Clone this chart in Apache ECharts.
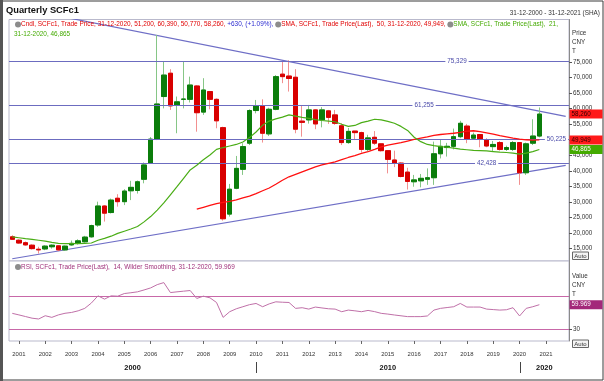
<!DOCTYPE html>
<html><head><meta charset="utf-8">
<script src="https://cdn.jsdelivr.net/npm/echarts@6/dist/echarts.min.js"></script>
<style>html,body{margin:0;padding:0;background:#fff}#c{width:604px;height:381px}</style>
</head><body><div id="c"></div>
<script>
// ---------- DATA ----------
const categories = [];
for (let y = 2000; y <= 2021; y++) for (let q = 1; q <= 4; q++) categories.push(y + ' Q' + q);
categories.splice(0, 3); // 2000 Q4 ... 2021 Q4

const open = [18800,17700,16900,16100,14800,14900,15600,15900,14600,16200,
16700,17200,18800,22600,28700,26600,31200,30100,33600,33700,
37300,42400,50200,63900,71400,61200,63000,63000,67300,58900,
65500,63000,53900,26100,34400,40500,48900,59400,60900,51900,
59800,71100,70500,70100,56000,56400,59600,56400,59300,58000,
54500,49100,52800,52300,46900,50800,48700,46500,43500,42500,
39600,36500,36800,37300,37800,45500,47500,47900,51000,54400,
50500,51700,49900,47800,49100,46900,46900,49100,39400,48900,
51200];
const high = [19300,18000,17300,16400,15600,16100,16400,16100,16000,17600,
18000,19100,22700,30100,29000,31100,32500,34100,36800,36900,
42700,50900,83700,75100,72700,63900,75100,70300,67600,69800,
65700,63300,54200,35800,44800,48900,59800,62800,63000,60300,
70800,75100,75600,72700,60900,61200,59800,60500,59600,59600,
55300,53800,52800,52600,51600,52800,48900,46500,46500,42800,
41000,38700,39000,40800,49400,50200,49000,53600,56100,55100,
52300,51800,50500,49600,49600,48100,49600,49100,49100,56600,
60390];
const low = [17800,16500,15900,14700,13400,14500,15000,14200,14300,15900,
16300,16900,18500,22000,23700,26300,28500,29000,30600,32700,
36000,42200,49900,60100,59600,52100,60100,62000,52600,58000,
59800,53700,24000,25300,34100,38700,48300,58500,49100,51200,
59500,68200,65500,52100,51000,55200,53400,54000,55100,54800,
48300,48700,49900,45900,46200,48300,46200,39200,41200,37900,
34000,34900,34700,35500,35500,44000,44600,46900,50500,48900,
50000,47600,47600,46400,46500,46400,46400,35500,38700,48300,
50770];
const close = [18000,16800,16200,15000,14600,15800,16100,14600,15800,16700,
17500,18700,22400,28700,26400,30600,30100,33500,34700,36500,
41900,50200,61500,70800,60900,62200,63100,67600,58700,66000,
63000,56100,24600,34100,40800,47800,59400,60900,52100,59800,
70300,70300,69700,53400,55600,59600,55100,59600,57200,55300,
49100,52700,52300,46900,50600,48900,46500,43700,42500,38200,
36600,37100,37600,37800,45500,47900,47900,51000,55300,50200,
51500,50200,48000,48500,46900,47500,49100,39400,48700,51200,
58260];
const sma21 = [18800,18500,18200,18000,17700,17400,17000,16700,16600,16600,
16600,16700,16800,17700,18300,19000,19900,20600,21300,22100,
23600,25300,27400,29700,32300,34900,37600,40300,41800,43600,
45100,46900,47500,48000,48500,49300,50700,52500,54700,56000,
56700,57300,58000,57600,57200,56900,56500,56200,56000,55800,
55000,54300,54600,55500,56000,56600,56400,55900,55300,54300,
53000,50800,49400,48500,48100,47800,47600,47300,47000,46800,
46600,46500,46400,46200,46000,45900,45700,45400,45700,46200,
46865];
const sma50 = [null,null,null,null,null,null,null,null,null,null,
null,null,null,null,null,null,null,null,null,null,
null,null,null,null,null,null,null,null,27700,28300,
28900,29500,29900,30200,30700,31300,31900,32700,33600,34500,
35700,37000,38100,38900,39700,40500,41300,41900,42400,42900,
43600,44300,44900,45600,46200,46900,47700,48300,48700,49100,
49600,50100,50500,50900,51400,51700,51900,52100,52400,52800,
52900,52600,52200,51800,51300,50900,50500,50200,50000,49900,
49949];
const rsi = [49.4,47.5,45.5,43.5,42.5,46.5,44.5,47.5,49.5,50.5,
52.5,55.5,62.0,70.8,66.8,70.8,70.4,73.6,74.6,75.7,
78.0,80.5,84.5,87.0,74.8,75.7,76.5,77.3,67.6,70.4,
68.4,62.7,44.5,51.4,55.0,57.5,60.0,61.5,57.5,61.0,
63.5,63.0,62.7,55.5,56.3,54.6,57.1,56.0,55.0,54.6,
51.4,53.4,52.5,51.4,53.0,51.5,49.4,48.5,47.4,46.4,
45.4,45.4,45.4,46.2,53.4,55.5,56.5,57.5,61.5,57.1,
57.1,57.1,54.6,54.0,53.4,53.8,56.3,46.2,55.5,57.5,
59.969];
const levels = [75329, 61255, 50225, 42428];
const upperTrend = [[0, 92760], [84, 57510]];
const lowerTrend = [[0, 11740], [84, 41770]];
const priceTicks = [15000,20000,25000,30000,35000,40000,45000,50000,55000,60000,65000,70000,75000];
const rsiTicks = [30];
const rsiLevels = [70, 30];
const changeText = '+630, (+1.09%), ';

// ---------- CHART ----------
const FF = "'Liberation Sans', Arial, Helvetica, sans-serif";
const chart = echarts.init(document.getElementById('c'), null, {renderer: 'canvas'});
const fmt = v => v.toLocaleString('en-US');
const N = open.length;
const full = open.map((o, i) => [o, close[i], low[i], high[i]]);
const bodies = open.map((o, i) => [o, close[i], Math.min(o, close[i]), Math.max(o, close[i])]);
const isQ1 = (idx, val) => String(val).endsWith('Q1');

const option = {
  animation: false,
  grid: [
    {left: 9, top: 19.5, width: 560, height: 241.5, show: true, borderColor: '#b9b9cc', borderWidth: 1, backgroundColor: '#fff'},
    {left: 9, top: 261, width: 560, height: 80, show: true, borderColor: '#b9b9cc', borderWidth: 1, backgroundColor: '#fff'}
  ],
  xAxis: [
    {gridIndex: 0, type: 'category', data: categories, boundaryGap: true,
     axisLine: {show: false}, axisTick: {show: false}, axisLabel: {show: false}, splitLine: {show: false}},
    {gridIndex: 1, type: 'category', data: categories, boundaryGap: true,
     axisLine: {show: false},
     axisTick: {show: true, interval: isQ1, alignWithLabel: true, length: 3, lineStyle: {color: '#666'}},
     axisLabel: {interval: isQ1, formatter: v => v.slice(0, 4), fontSize: 5.9, color: '#333', margin: 10, fontFamily: FF},
     splitLine: {show: false}}
  ],
  yAxis: [
    {gridIndex: 0, type: 'value', position: 'right', min: 11020, max: 88673, scale: true,
     axisLine: {show: true, lineStyle: {color: '#8a8a8a'}},
     axisTick: {show: true, customValues: priceTicks, length: 3, lineStyle: {color: '#555'}},
     axisLabel: {customValues: priceTicks, formatter: v => fmt(v), fontSize: 6.3, color: '#333', margin: 4, fontFamily: FF},
     splitLine: {show: false}},
    {gridIndex: 1, type: 'value', position: 'right', min: 15.6, max: 113.4, scale: true,
     axisLine: {show: true, lineStyle: {color: '#8a8a8a'}},
     axisTick: {show: true, customValues: rsiTicks, length: 3, lineStyle: {color: '#555'}},
     axisLabel: {customValues: rsiTicks, fontSize: 6.3, color: '#333', margin: 4, fontFamily: FF},
     splitLine: {show: false}}
  ],
  series: [
    {type: 'candlestick', name: 'wicks', xAxisIndex: 0, yAxisIndex: 0, data: full, barWidth: 5, z: 3,
     itemStyle: {color: '#86c686', color0: '#f29090', borderColor: '#86c686', borderColor0: '#f29090', borderWidth: 1}},
    {type: 'candlestick', name: 'bodies', xAxisIndex: 0, yAxisIndex: 0, data: bodies, barWidth: 5, z: 4,
     itemStyle: {color: '#0b7d0b', color0: '#d80000', borderColor: '#0b7d0b', borderColor0: '#d80000', borderWidth: 1}},
    {type: 'line', name: 'SMA50', xAxisIndex: 0, yAxisIndex: 0, data: sma50, symbol: 'none', z: 5,
     lineStyle: {color: '#ff1010', width: 1.3}},
    {type: 'line', name: 'SMA21', xAxisIndex: 0, yAxisIndex: 0, data: sma21, symbol: 'none', z: 5,
     lineStyle: {color: '#4aad16', width: 1.2}},
    {type: 'line', name: 'upper', xAxisIndex: 0, yAxisIndex: 0, data: upperTrend, symbol: 'none', z: 2, clip: true,
     lineStyle: {color: '#6e6ec6', width: 1.2},
     markLine: {silent: true, symbol: ['none', 'none'], label: {show: false}, animation: false,
       lineStyle: {color: '#6c6cc0', width: 1, type: 'solid'},
       data: levels.map(v => ({yAxis: v}))}},
    {type: 'line', name: 'lower', xAxisIndex: 0, yAxisIndex: 0, data: lowerTrend, symbol: 'none', z: 2, clip: true,
     lineStyle: {color: '#6e6ec6', width: 1.2}},
    {type: 'line', name: 'RSI', xAxisIndex: 1, yAxisIndex: 1, data: rsi, symbol: 'none', z: 5,
     lineStyle: {color: '#c070a8', width: 1},
     markLine: {silent: true, symbol: ['none', 'none'], label: {show: false}, animation: false,
       lineStyle: {color: '#c868a8', width: 1, type: 'solid'},
       data: rsiLevels.map(v => ({yAxis: v}))}}
  ]
};
chart.setOption(option);

// ---------- ANNOTATIONS (positions through the chart's own scales) ----------
const X = i => chart.convertToPixel({xAxisIndex: 0}, i);
const sw = X(1) - X(0);
const xAt = f => X(0) + f * sw;
const Y = v => chart.convertToPixel({yAxisIndex: 0}, v);
const YR = v => chart.convertToPixel({yAxisIndex: 1}, v);
const last = N - 1;
const T = (text, x, y, o) => Object.assign({type: 'text', z: 100, silent: true,
  style: Object.assign({text, x, y, fill: '#333', fontSize: 6.3, fontFamily: FF, align: 'left', verticalAlign: 'middle'}, o || {})});
const R = (x, y, w, h, fill, stroke) => ({type: 'rect', z: 99, silent: true, shape: {x, y, width: w, height: h},
  style: {fill: fill || 'none', stroke: stroke || null, lineWidth: 1}});

const els = [];
els.push(R(1, 1, 602, 379, 'none', '#3a3a3a'));
els.push(R(0, 0, 3, 381, '#555', null));
els.push(T('Quarterly SCFc1', 6, 10, {fontSize: 9.3, fontWeight: 'bold', fill: '#111'}));
els.push(T('31-12-2000 - 31-12-2021 (SHA)', 600, 13, {fontSize: 6.4, align: 'right'}));

const FS = 6.45;
const rich = {
  r: {fill: '#e00000', fontSize: FS, fontFamily: FF},
  b: {fill: '#2a2ad0', fontSize: FS, fontFamily: FF},
  g: {fill: '#44aa00', fontSize: FS, fontFamily: FF},
  m: {fill: '#a0307a', fontSize: FS, fontFamily: FF},
  ic: {width: 6, height: 6, backgroundColor: '#8c8c8c', borderRadius: 3, fontSize: 4}
};
const line1 = '{ic| }{r|Cndl, SCFc1, Trade Price, 31-12-2020, ' + fmt(open[last]) + ', ' + fmt(high[last]) + ', ' +
  fmt(low[last]) + ', ' + fmt(close[last]) + ', }{b|' + changeText + '}{ic| }{r|SMA, SCFc1, Trade Price(Last),  50, 31-12-2020, ' +
  fmt(sma50[last]) + ', }{ic| }{g|SMA, SCFc1, Trade Price(Last),  21,}';
els.push(T(line1, 15, 24.5, {rich}));
els.push(T('31-12-2020, ' + fmt(sma21[last]), 14, 34, {fill: '#44aa00', fontSize: FS}));
els.push(T('{ic| }{m|RSI, SCFc1, Trade Price(Last),  14, Wilder Smoothing, 31-12-2020, ' + rsi[last].toFixed(3) + '}', 15, 267, {rich}));

['Price', 'CNY', 'T'].forEach((s, k) => els.push(T(s, 572, 33 + k * 9)));
['Value', 'CNY', 'T'].forEach((s, k) => els.push(T(s, 572, 276 + k * 9)));
[[252, 'Auto'], [340, 'Auto']].forEach(([y, s]) => {
  els.push(R(572.5, y, 16, 7.5, '#f4f4f4', '#666'));
  els.push(T(s, 580.5, y + 4, {align: 'center', fontSize: 6}));
});

// level labels on the horizontal lines
[[levels[0], 67.5], [levels[1], 62.5], [levels[2], 82.6], [levels[3], 72]].forEach(([v, f]) => {
  els.push(T(fmt(v), xAt(f), Y(v), {align: 'center', fill: '#4848a8', backgroundColor: '#fff', padding: [0, 2]}));
});

// last value boxes
[[close[last], '#ff1a1a', '#300'], [sma50[last], '#ff1a1a', '#300'], [sma21[last], '#44aa00', '#fff']].forEach(([v, bg, fg]) => {
  els.push(R(569.5, Y(v) - 4.5, 33, 9, bg, null));
  els.push(T(fmt(v), 571.5, Y(v), {fill: fg}));
});
els.push(R(569.5, YR(rsi[last]) - 4.5, 33, 9, '#a3287a', null));
els.push(T(rsi[last].toFixed(3), 571.5, YR(rsi[last]), {fill: '#fff'}));

// decade labels and separators
const i2010 = categories.indexOf('2010 Q1'), i2020 = categories.indexOf('2020 Q1');
const gl = 9, gr = 569;
[[ (gl + X(i2010)) / 2, '2000'], [(X(i2010) + X(i2020)) / 2, '2010'], [(X(i2020) + gr) / 2, '2020']].forEach(([x, s]) => {
  els.push(T(s, x, 368, {align: 'center', fontWeight: 'bold', fontSize: 7.4, fill: '#111'}));
});
[X(i2010), X(i2020)].forEach(x => els.push({type: 'line', z: 100, silent: true,
  shape: {x1: Math.round(x) + 0.5, y1: 362, x2: Math.round(x) + 0.5, y2: 373}, style: {stroke: '#444', lineWidth: 1}}));

chart.setOption({graphic: els});
</script></body></html>
